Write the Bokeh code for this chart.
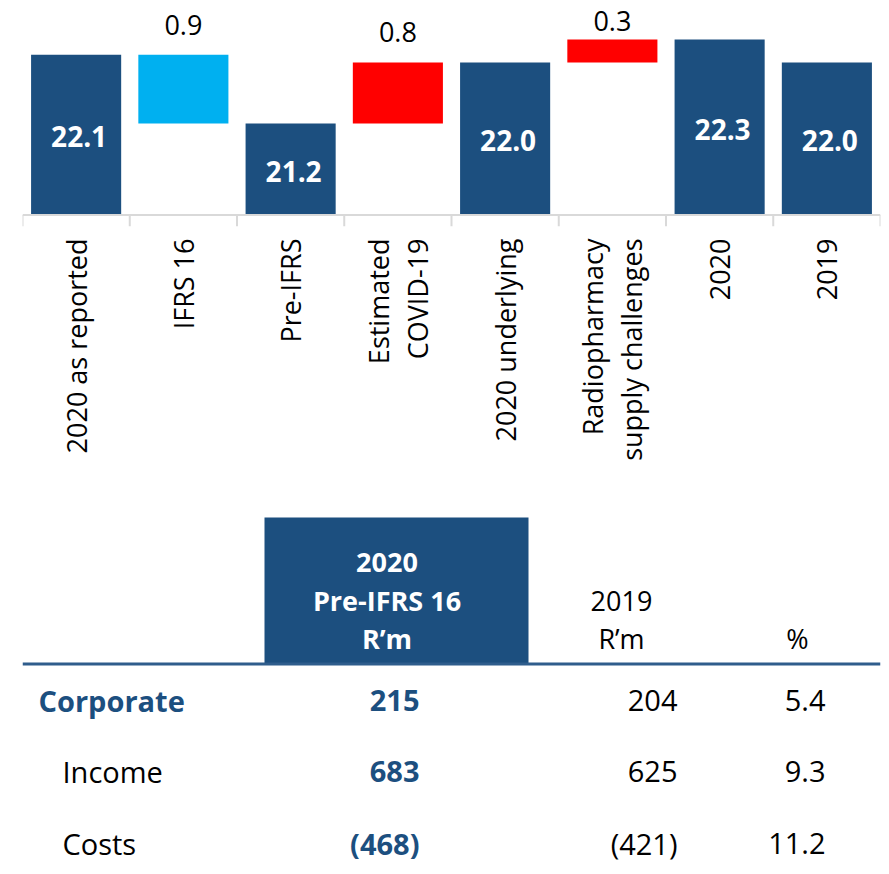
import math
from bokeh.plotting import figure
from bokeh.models import ColumnDataSource, Range1d, FactorRange, Span
from bokeh.transform import dodge
from bokeh.layouts import column
from bokeh.embed import file_html
from bokeh.resources import INLINE
from bokeh.core.properties import value

# ---------------- data ----------------
categories = ["2020 as reported", "IFRS 16", "Pre-IFRS", "Estimated\nCOVID-19",
              "2020 underlying", "Radiopharmacy\nsupply challenges", "2020", "2019"]
amounts = [22.1, -0.9, 21.2, 0.8, 22.0, 0.3, 22.3, 22.0]
kinds = ["total", "delta", "total", "delta", "total", "delta", "total", "total"]

row_labels = ["Corporate", "Income", "Costs"]
values_2020 = [215, 683, -468]
values_2019 = [204, 625, -421]
change_pct = [5.4, 9.3, 11.2]
header_2020 = ["2020", "Pre-IFRS 16", "R\u2019m"]
header_2019 = ["2019", "R\u2019m"]
header_pct = ["%"]

# ---------------- styles ----------------
FONT = "Open Sans"
NAVY = "#1C4F7F"
CYAN = "#00B0F0"
RED = "#FF0000"
AXIS_GREY = "#D9D9D9"
RULE_BLUE = "#2F5D8C"

BASE = 20.0
Y0, Y1 = 19.851, 22.811
FRAME_H = 226
PPU = FRAME_H / (Y1 - Y0)

# ---------------- waterfall geometry ----------------
bottoms, tops, colors = [], [], []
tot_x, tot_y, tot_txt = [], [], []
dlt_x, dlt_y, dlt_txt = [], [], []
running = None
for cat, amt, kind in zip(categories, amounts, kinds):
    if kind == "total":
        b, t = BASE, amt
        running = amt
        c = NAVY
        tot_x.append(cat)
        tot_y.append((b + t) / 2)
        tot_txt.append(f"{amt:.1f}")
    else:
        start, end = running, running + amt
        b, t = min(start, end), max(start, end)
        running = end
        c = RED if amt > 0 else CYAN
        dlt_x.append(cat)
        dlt_y.append(min(t + 30 / PPU, Y1 - 20 / PPU))
        dlt_txt.append(f"{abs(amt):.1f}")
    bottoms.append(b)
    tops.append(t)
    colors.append(c)

src = ColumnDataSource(dict(cat=categories, bottom=bottoms, top=tops, color=colors))

p = figure(x_range=FactorRange(factors=categories), y_range=Range1d(Y0, Y1),
           width=889, height=508, min_border_left=22, min_border_right=9,
           min_border_top=0, min_border_bottom=282, y_axis_location=None,
           output_backend="svg", toolbar_location=None, tools="")
p.xgrid.grid_line_color = None
p.ygrid.grid_line_color = None
p.outline_line_color = None
p.background_fill_color = "white"
p.border_fill_color = "white"

p.vbar(x="cat", bottom="bottom", top="top", width=0.84, fill_color="color",
       line_color=None, source=src)

# baseline and category-boundary ticks
p.add_layout(Span(location=BASE, dimension="width", line_color=AXIS_GREY, line_width=2))
n = len(categories)
tick_src = ColumnDataSource(dict(cat=categories, y0=[BASE] * n, y1=[Y0] * n))
p.segment(x0=dodge("cat", -0.5, range=p.x_range), x1=dodge("cat", -0.5, range=p.x_range),
          y0="y0", y1="y1", line_color=AXIS_GREY, line_width=2, source=tick_src)
end_src = ColumnDataSource(dict(cat=categories[-1:], y0=[BASE], y1=[Y0]))
p.segment(x0=dodge("cat", 0.5, range=p.x_range), x1=dodge("cat", 0.5, range=p.x_range),
          y0="y0", y1="y1", line_color=AXIS_GREY, line_width=2, source=end_src)

# bar labels
p.text(x=tot_x, y=tot_y, text=tot_txt, text_font=value(FONT), text_font_size="28px",
       text_font_style="bold", text_color="white", text_align="center",
       text_baseline="middle", x_offset=3, y_offset=2)
p.text(x=dlt_x, y=dlt_y, text=dlt_txt, text_font=value(FONT), text_font_size="27px",
       text_color="black", text_align="center", text_baseline="middle")

ax = p.xaxis[0]
ax.axis_line_color = None
ax.major_tick_line_color = None
ax.minor_tick_line_color = None
ax.major_tick_out = 0
ax.major_tick_in = 0
ax.major_label_orientation = math.pi / 2
ax.major_label_standoff = 12
ax.major_label_text_font = FONT
ax.major_label_text_font_size = "27px"
ax.major_label_text_color = "black"
ax.major_label_text_line_height = 1.05

# ---------------- table ----------------
TABLE_LEFT, TABLE_RIGHT = 22, 880
LABEL_X = [38, 62, 62]
COL_RIGHT = [419, 677, 825]
HEAD_CENTER = [386.5, 621, 797]
HEAD_MID = [562, 600, 638]
ROW_MID = [700, 771, 843]


def fmt(v):
    return f"({abs(v)})" if v < 0 else f"{v}"


t = figure(x_range=Range1d(TABLE_LEFT, TABLE_RIGHT), y_range=Range1d(874, 508),
           width=889, height=366, min_border_left=22, min_border_right=9,
           min_border_top=0, min_border_bottom=0,
           x_axis_location=None, y_axis_location=None,
           output_backend="svg", toolbar_location=None, tools="")
t.xgrid.grid_line_color = None
t.ygrid.grid_line_color = None
t.outline_line_color = None

t.quad(left=[264], right=[528], top=[517], bottom=[663], fill_color=NAVY, line_color=None)
t.segment(x0=[TABLE_LEFT], x1=[TABLE_RIGHT], y0=[663.5], y1=[663.5],
          line_color=RULE_BLUE, line_width=3)

common = dict(text_font=value(FONT), text_baseline="middle")
t.text(x=[HEAD_CENTER[0]] * len(header_2020), y=HEAD_MID, text=header_2020,
       text_font_size="27px", text_font_style="bold", text_color="white",
       text_align="center", **common)
t.text(x=[HEAD_CENTER[1]] * len(header_2019), y=HEAD_MID[1:], text=header_2019,
       text_font_size="27px", text_color="black", text_align="center", **common)
t.text(x=[HEAD_CENTER[2]] * len(header_pct), y=HEAD_MID[2:], text=header_pct,
       text_font_size="27px", text_color="black", text_align="center", **common)

t.text(x=LABEL_X[:1], y=ROW_MID[:1], text=row_labels[:1], text_font_size="29px",
       text_font_style="bold", text_color=NAVY, text_align="left", **common)
t.text(x=LABEL_X[1:], y=ROW_MID[1:], text=row_labels[1:], text_font_size="29px",
       text_color="black", text_align="left", **common)
t.text(x=[COL_RIGHT[0]] * 3, y=ROW_MID, text=[fmt(v) for v in values_2020],
       text_font_size="29px", text_font_style="bold", text_color=NAVY,
       text_align="right", **common)
t.text(x=[COL_RIGHT[1]] * 3, y=ROW_MID, text=[fmt(v) for v in values_2019],
       text_font_size="29px", text_color="black", text_align="right", **common)
t.text(x=[COL_RIGHT[2]] * 3, y=ROW_MID, text=[f"{v:.1f}" for v in change_pct],
       text_font_size="29px", text_color="black", text_align="right", **common)

layout = column(p, t, spacing=0)
open("out.html", "w").write(file_html(layout, INLINE))
